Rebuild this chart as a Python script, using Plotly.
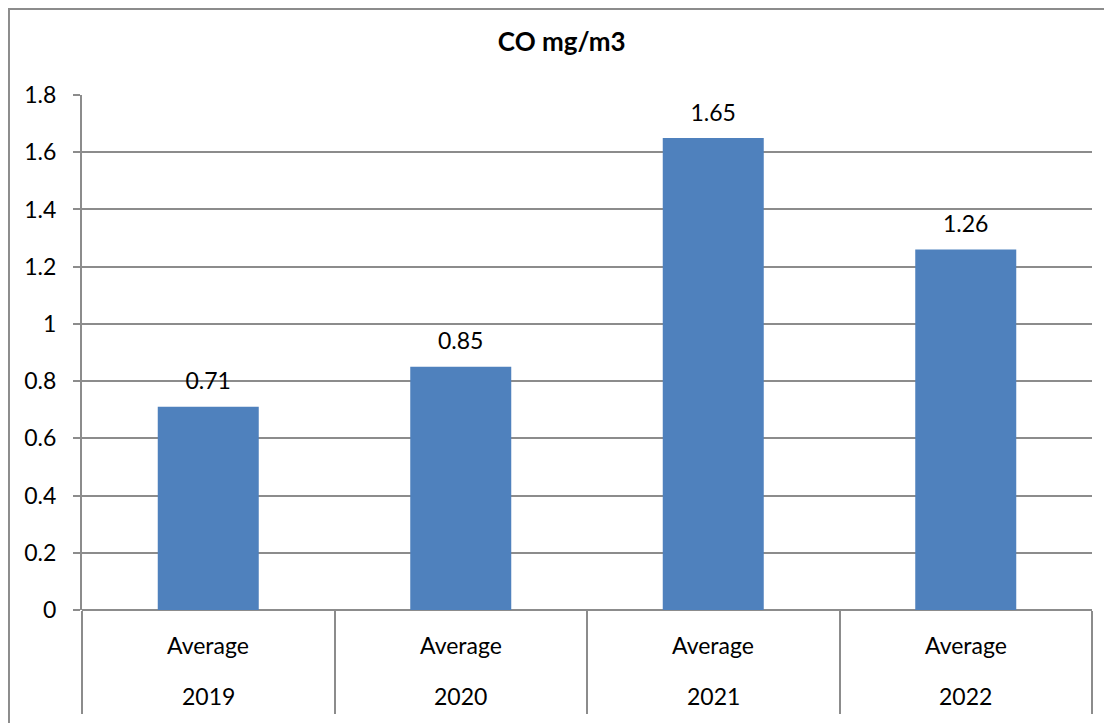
import plotly.graph_objects as go

years = ["2019", "2020", "2021", "2022"]
stat = ["Average", "Average", "Average", "Average"]
co_values = [0.71, 0.85, 1.65, 1.26]
y_ticks = [0, 0.2, 0.4, 0.6, 0.8, 1, 1.2, 1.4, 1.6, 1.8]

FONT = "Lato"
GREY = "#8c8c8c"
SIZE = 23

fig = go.Figure()
fig.add_bar(
    x=years, y=co_values,
    marker=dict(color="#4F81BD", line=dict(width=0)),
    width=0.4, hoverinfo="skip",
)
# value labels above the bars (invisible marker pushes the text up a bit)
fig.add_scatter(
    x=years, y=co_values, mode="markers+text",
    text=[f"{v:g}" for v in co_values], textposition="top center",
    textfont=dict(family=FONT, size=SIZE, color="black"),
    marker=dict(size=17, opacity=0), hoverinfo="skip", showlegend=False,
)

# two-level category labels under the axis (Excel style)
annotations = []
for i, (yr, st) in enumerate(zip(years, stat)):
    annotations.append(dict(x=i, y=0, xref="x", yref="paper", text=st,
                            showarrow=False, yanchor="middle", yshift=-35))
    annotations.append(dict(x=i, y=0, xref="x", yref="paper", text=yr,
                            showarrow=False, yanchor="middle", yshift=-86))

fig.update_layout(
    width=1112, height=723,
    margin=dict(l=74, r=28, t=87, b=121),
    paper_bgcolor="white", plot_bgcolor="white",
    showlegend=False,
    font=dict(family=FONT, size=SIZE, color="black"),
    title=dict(
        text="<b>CO mg/m3</b>", x=0.498, xref="container", xanchor="center",
        y=0.953, yref="container", yanchor="middle",
        font=dict(family=FONT, size=26, color="black"),
    ),
    xaxis=dict(
        type="category", categoryorder="array", categoryarray=years,
        range=[-0.5, len(years) - 0.5], showgrid=False,
        showticklabels=False, ticks="outside", tickson="boundaries",
        ticklen=103, tickcolor=GREY, tickwidth=2, showline=False,
    ),
    yaxis=dict(
        range=[0, 1.8], tickvals=y_ticks, ticktext=[f"{t:g}" for t in y_ticks],
        showgrid=True, gridcolor=GREY, gridwidth=1.5,
        showline=True, linecolor=GREY, linewidth=2,
        ticks="outside", ticklen=7, tickcolor=GREY, tickwidth=2,
        zeroline=True, zerolinecolor=GREY, zerolinewidth=2,
        ticklabelstandoff=12,
    ),
    annotations=annotations,
    # outer chart-area border (right and bottom run off the page)
    shapes=[dict(
        type="rect", xref="paper", yref="paper",
        x0=-0.0723, x1=1.06, y0=-0.35, y1=1.167,
        line=dict(color=GREY, width=2), fillcolor="rgba(0,0,0,0)",
    )],
)

fig.write_html("out.html")
